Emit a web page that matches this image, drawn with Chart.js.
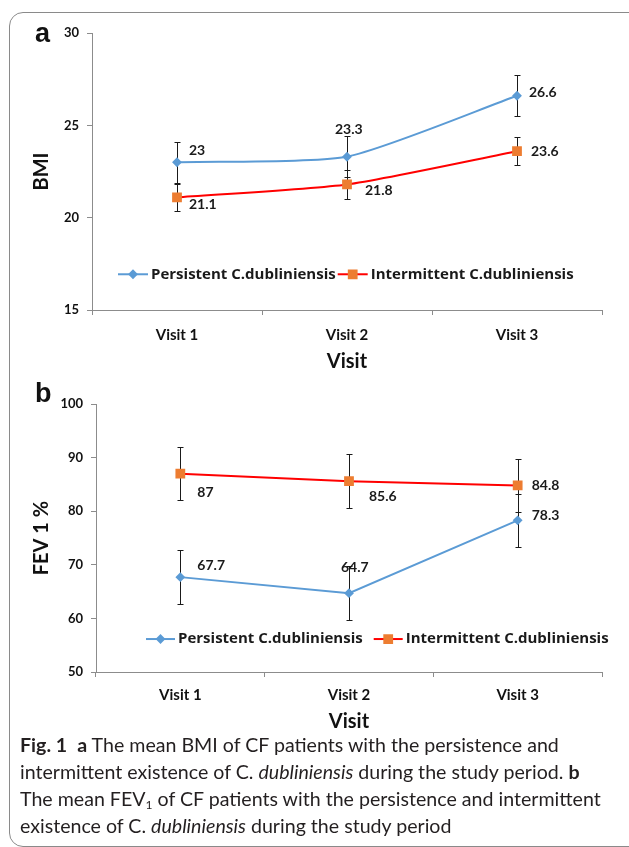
<!DOCTYPE html>
<html>
<head>
<meta charset="utf-8">
<script src="https://cdn.jsdelivr.net/npm/chart.js@4"></script>
<style>
  body { margin: 0; width: 629px; height: 847px; overflow: hidden; background: #fff; position: relative; }
  #frame { position: absolute; left: 9px; top: 12px; width: 700px; height: 833px; border: 1.5px solid #8a8a8a; border-radius: 14px; }
  canvas { position: absolute; left: 0; }
  #bmi { top: 0; }
  #fev { top: 375px; }
  .tag { position: absolute; font: bold 27px "Liberation Sans", Arial, sans-serif; color: #111; line-height: 1; }
  #caption { position: absolute; left: 20px; top: 731px; font: 19.6px Lato, sans-serif; line-height: 27px; color: #231f20; white-space: nowrap; }
  #caption sub { font-size: 12px; line-height: 0; vertical-align: -3px; }
</style>
</head>
<body>
<div id="frame"></div>
<canvas id="bmi" width="629" height="375"></canvas>
<canvas id="fev" width="629" height="360"></canvas>
<div class="tag" style="left:35px; top:20px;">a</div>
<div class="tag" style="left:35px; top:380px;">b</div>
<div id="caption">
<b>Fig. 1</b>&nbsp; <b>a</b> The mean BMI of CF patients with the persistence and<br>
intermittent existence of C. <i>dubliniensis</i> during the study period. <b>b</b><br>
The mean FEV<sub>1</sub> of CF patients with the persistence and intermittent<br>
existence of C. <i>dubliniensis</i> during the study period
</div>
<script>
const visits = ["Visit 1", "Visit 2", "Visit 3"];
const seriesNames = ["Persistent C.dubliniensis", "Intermittent C.dubliniensis"];

// panel a: BMI
const bmiPersistent = [23, 23.3, 26.6];
const bmiPersistentErr = [1.1, 1.1, 1.1];
const bmiIntermittent = [21.1, 21.8, 23.6];
const bmiIntermittentErr = [0.75, 0.8, 0.75];
const bmiTicks = [15, 20, 25, 30];

// panel b: FEV1 %
const fevPersistent = [67.7, 64.7, 78.3];
const fevPersistentErr = [5, 5, 5];
const fevIntermittent = [87, 85.6, 84.8];
const fevIntermittentErr = [5, 5, 5];
const fevTicks = [50, 60, 70, 80, 90, 100];

const BLUE = "#5b9bd5";
const RED = "#ff0000";
const ORANGE = "#ed7d31";
const AXIS = "#8c8c8c";
const FONT = "Lato, sans-serif";

const errorBars = {
  id: "errorBars",
  beforeDatasetsDraw(chart) {
    const ctx = chart.ctx;
    const y = chart.scales.y;
    ctx.save();
    ctx.strokeStyle = "#1a1a1a";
    ctx.lineWidth = 1;
    chart.data.datasets.forEach((ds, i) => {
      chart.getDatasetMeta(i).data.forEach((pt, j) => {
        const top = Math.round(y.getPixelForValue(ds.data[j] + ds.err[j])) + 0.5;
        const bot = Math.round(y.getPixelForValue(ds.data[j] - ds.err[j])) + 0.5;
        const x = Math.round(pt.x) + 0.5;
        ctx.beginPath();
        ctx.moveTo(x, top); ctx.lineTo(x, bot);
        ctx.moveTo(x - 3, top); ctx.lineTo(x + 3, top);
        ctx.moveTo(x - 3, bot); ctx.lineTo(x + 3, bot);
        ctx.stroke();
      });
    });
    ctx.restore();
  }
};

const valueLabels = {
  id: "valueLabels",
  afterDatasetsDraw(chart, args, opts) {
    const ctx = chart.ctx;
    ctx.save();
    ctx.font = "bold 14px " + FONT;
    ctx.fillStyle = "#1a1a1a";
    ctx.textAlign = "left";
    ctx.textBaseline = "middle";
    chart.data.datasets.forEach((ds, i) => {
      chart.getDatasetMeta(i).data.forEach((pt, j) => {
        const [dx, dy] = opts.offsets[i][j];
        ctx.fillText(String(ds.data[j]), pt.x + dx, pt.y + dy);
      });
    });
    ctx.restore();
  }
};

const insideLegend = {
  id: "insideLegend",
  afterDraw(chart, args, opts) {
    const ctx = chart.ctx;
    const area = chart.chartArea;
    let x = area.left + opts.x;
    const y = area.top + opts.y * (area.bottom - area.top);
    ctx.save();
    ctx.font = "bold 15px 'Open Sans', sans-serif";
    ctx.textBaseline = "middle";
    ctx.textAlign = "left";
    chart.data.datasets.forEach((ds) => {
      ctx.strokeStyle = ds.borderColor;
      ctx.lineWidth = 2;
      ctx.beginPath();
      ctx.moveTo(x, y); ctx.lineTo(x + opts.symbol, y);
      ctx.stroke();
      ctx.fillStyle = ds.pointBackgroundColor;
      ctx.strokeStyle = ds.pointBackgroundColor;
      Chart.helpers.drawPoint(ctx, { pointStyle: ds.pointStyle, radius: ds.pointRadius, borderWidth: 1, rotation: 0 }, x + opts.symbol / 2, y);
      x += opts.symbol + 3;
      ctx.fillStyle = "#1a1a1a";
      ctx.fillText(ds.label, x, y);
      x += ctx.measureText(ds.label).width + opts.gap;
    });
    ctx.restore();
  }
};

function makeChart(id, p) {
  return new Chart(document.getElementById(id), {
    type: "line",
    data: {
      labels: visits,
      datasets: [
        {
          label: seriesNames[0],
          data: p.persistent,
          err: p.persistentErr,
          borderColor: BLUE,
          backgroundColor: BLUE,
          pointBackgroundColor: BLUE,
          pointBorderColor: BLUE,
          pointStyle: "rectRot",
          pointRadius: 3.5,
          borderWidth: 2,
          tension: p.tension,
          order: 2,
        },
        {
          label: seriesNames[1],
          data: p.intermittent,
          err: p.intermittentErr,
          borderColor: RED,
          backgroundColor: ORANGE,
          pointBackgroundColor: ORANGE,
          pointBorderColor: ORANGE,
          pointStyle: "rect",
          pointRadius: 5.5,
          borderWidth: 2,
          tension: p.tension,
          order: 1,
        },
      ],
    },
    options: {
      responsive: false,
      animation: false,
      devicePixelRatio: 1,
      layout: { padding: { top: p.top, right: 27, left: 0, bottom: 0 } },
      plugins: {
        legend: { display: false },
        tooltip: { enabled: false },
        valueLabels: { offsets: p.offsets },
        insideLegend: p.legend,
      },
      scales: {
        x: {
          offset: true,
          grid: { offset: true, drawOnChartArea: false, drawTicks: true, tickLength: 5, color: AXIS },
          border: { color: AXIS, width: 1 },
          ticks: { color: "#111", font: { family: FONT, size: 15, weight: "bold" }, padding: p.xPad },
          title: { display: true, text: "Visit", color: "#111", font: { family: FONT, size: 20, weight: "bold" }, padding: { top: 0, bottom: 1 } },
          afterFit: (s) => { s.height = p.xHeight; },
        },
        y: {
          min: p.ticks[0],
          max: p.ticks[p.ticks.length - 1],
          grid: { drawOnChartArea: false, drawTicks: true, tickLength: 5, color: AXIS },
          border: { color: AXIS, width: 1 },
          ticks: { stepSize: p.ticks[1] - p.ticks[0], color: "#111", font: { family: FONT, size: 13, weight: "bold" }, padding: 8 },
          title: { display: true, text: p.yTitle, color: "#111", font: { family: FONT, size: 20, weight: "bold" }, padding: { top: 30, bottom: 0 } },
          afterFit: (s) => { s.width = p.yWidth; },
        },
      },
    },
    plugins: [errorBars, valueLabels, insideLegend],
  });
}

makeChart("bmi", {
  persistent: bmiPersistent, persistentErr: bmiPersistentErr,
  intermittent: bmiIntermittent, intermittentErr: bmiIntermittentErr,
  ticks: bmiTicks, yTitle: "BMI", tension: 0.2,
  top: 33, yWidth: 92, xHeight: 65, xPad: 11,
  offsets: [[[12, -12], [-12, -27], [12, -3]], [[12, 7], [18, 6], [14, 0]]],
  legend: { x: 26, y: 0.871, symbol: 30, gap: 2 },
});

makeChart("fev", {
  persistent: fevPersistent, persistentErr: fevPersistentErr,
  intermittent: fevIntermittent, intermittentErr: fevIntermittentErr,
  ticks: fevTicks, yTitle: "FEV 1 %", tension: 0,
  top: 29, yWidth: 96, xHeight: 63, xPad: 9,
  offsets: [[[17, -12], [-8, -26], [14, -5]], [[17, 19], [20, 15], [14, 0]]],
  legend: { x: 50, y: 0.877, symbol: 29, gap: 11 },
});
</script>
</body>
</html>
